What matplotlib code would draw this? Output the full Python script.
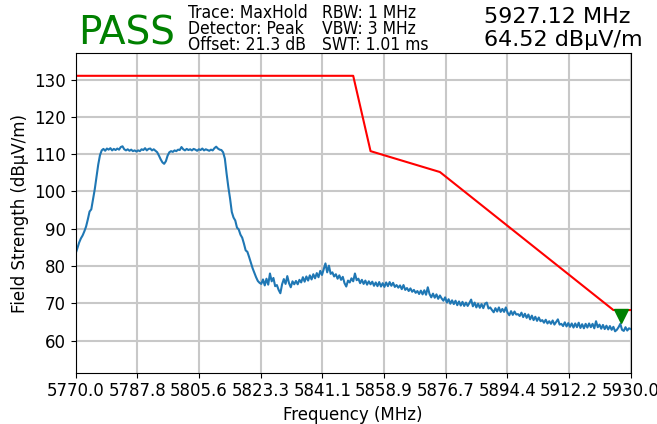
import numpy as np
import matplotlib
matplotlib.use("Agg")
import matplotlib.pyplot as plt

# measured trace, 0.5 MHz steps from 5770 to 5930 MHz (dBuV/m)
rise = [83.4, 84.8, 86.3, 87.4, 88.2, 89.3, 90.6, 92.5, 94.6, 95.2, 97.9, 100.6,
        104.0, 107.2, 109.7, 111.0]
flat1 = [111.4, 110.9, 111.5, 111.2, 111.6, 111.0, 111.4, 111.1, 111.5, 111.2,
         111.9, 112.1, 111.3, 111.0, 111.3, 110.9, 111.2, 110.8, 111.0, 110.7,
         111.0, 110.8, 111.3, 111.1, 111.6, 111.0, 111.4, 111.5, 111.0, 111.3, 110.9]
dip = [110.5, 109.6, 108.6, 107.8, 107.4, 108.1, 109.6, 110.5]
flat2 = [110.8, 110.6, 111.0, 110.8, 111.2, 111.1, 111.9, 111.3, 111.0, 111.4,
         111.1, 111.3, 111.0, 111.4, 111.2, 110.9, 111.3, 111.1, 111.5, 111.0,
         111.3, 111.1, 110.9, 111.2, 111.0, 111.6, 112.0, 111.5, 111.2, 111.1]
fall = [110.5, 108.8, 104.8, 101.2, 98.1, 94.5, 93.0, 92.2, 90.3, 89.8, 88.4,
        87.6, 86.0, 84.2, 83.8, 82.4, 80.9, 79.4, 78.2, 77.0, 76.0, 75.5]
tail = [75.2, 76.4, 74.8, 76.6, 75.0, 78.0, 75.9, 76.8, 74.6, 74.9,
        73.6, 72.7, 75.1, 76.5, 75.2, 77.3, 75.4, 74.3, 75.9, 75.1,
        76.0, 75.1, 76.3, 75.6, 77.0, 75.8, 77.2, 76.1, 77.5, 76.4,
        77.8, 76.7, 78.1, 77.0, 78.7, 77.6, 79.2, 80.7, 78.3, 80.1,
        77.9, 78.3, 77.2, 77.8, 76.6, 77.5, 76.3, 77.1, 75.4, 74.5,
        76.1, 75.6, 76.7, 75.9, 78.0, 76.2, 76.6, 75.4, 76.3, 75.2,
        76.1, 75.0, 75.9, 75.1, 75.8, 74.7, 75.6, 74.6, 75.7, 74.5,
        75.4, 74.4, 75.6, 74.6, 75.7, 74.7, 75.5, 74.4, 74.9, 74.2,
        74.8, 73.8, 74.9, 73.6, 74.1, 73.3, 74.0, 73.1, 73.6, 72.8,
        73.3, 72.5, 73.4, 72.4, 73.5, 72.3, 74.3, 72.5, 71.6, 72.6,
        71.5, 72.4, 71.2, 72.1, 71.3, 70.7, 71.6, 70.2, 71.1, 69.9,
        70.8, 69.8, 70.7, 69.5, 70.5, 69.4, 70.4, 69.3, 70.2, 69.3,
        70.1, 71.0, 69.2, 70.2, 68.9, 69.9, 68.8, 69.8, 68.7, 69.9,
        70.2, 68.6, 68.9, 68.2, 67.6, 68.7, 67.8, 68.9, 67.7, 68.5,
        67.7, 68.9, 67.5, 66.8, 67.9, 66.9, 67.8, 67.0, 67.1, 66.6,
        67.5, 66.3, 67.2, 66.1, 67.0, 65.7, 66.7, 65.5, 66.4, 65.3,
        66.2, 65.2, 65.5, 64.8, 65.6, 64.6, 65.2, 64.5, 65.4, 64.3,
        65.0, 65.7, 64.3, 64.5, 63.9, 64.9, 63.8, 64.7, 63.7, 64.6,
        63.5, 64.6, 63.6, 64.8, 63.4, 64.4, 63.3, 64.5, 63.5, 64.6,
        63.6, 64.5, 63.3, 65.2, 63.6, 64.3, 63.2, 64.2, 63.1, 64.0,
        63.0, 63.9, 62.9, 63.7, 62.5, 62.9, 63.6, 64.5, 62.9, 62.6,
        63.6, 62.7, 63.3, 63.1]
level = np.array(rise + flat1 + dip + flat2 + fall + tail)
freq = np.linspace(5770, 5930, len(level))

limit_freq = [5770, 5850, 5855, 5875, 5925, 5930]
limit_val = [131.0, 131.0, 110.8, 105.2, 68.2, 68.2]

peak_freq = 5927.12
peak_val = 64.52

xticks = np.linspace(5770, 5930, 10)
yticks = [60, 70, 80, 90, 100, 110, 120, 130]

fig = plt.figure(figsize=(6.57, 4.24), dpi=100)
ax = fig.add_axes([0.1152, 0.121, 0.8448, 0.753])

ax.plot(freq, level, color="#1f77b4", lw=1.5)
ax.plot(limit_freq, limit_val, color="red", lw=1.5)
ax.plot(peak_freq, peak_val + 2, marker="v", color="green", markersize=10, ls="none")

ax.set_xlim(5770, 5930)
ax.set_ylim(51.4, 137.0)
ax.set_xticks(xticks)
ax.set_xticklabels([f"{t:.1f}" for t in xticks])
ax.set_yticks(yticks)
ax.tick_params(labelsize=12)
ax.grid(True, color="#c8c8c8", lw=1.5)
ax.set_axisbelow(True)
ax.set_xlabel("Frequency (MHz)", fontsize=12)
ax.set_ylabel("Field Strength (dBµV/m)", fontsize=12)

fig.text(0.1187, 0.894, "PASS", color="green", fontsize=28, va="baseline")
col1 = ["Trace: MaxHold", "Detector: Peak", "Offset: 21.3 dB"]
col2 = ["RBW: 1 MHz", "VBW: 3 MHz", "SWT: 1.01 ms"]
for i in range(3):
    yy = 1 - (12.5 + 16 * i) / 424
    fig.text(0.286, yy, col1[i], fontsize=12.5, va="center", stretch="condensed")
    fig.text(0.490, yy, col2[i], fontsize=12.5, va="center", stretch="condensed")
fig.text(0.737, 1 - 17 / 424, f"{peak_freq:.2f} MHz", fontsize=16, va="center")
fig.text(0.737, 1 - 40 / 424, f"{peak_val:.2f} dBµV/m", fontsize=16, va="center")

fig.savefig("out.png", dpi=100)
